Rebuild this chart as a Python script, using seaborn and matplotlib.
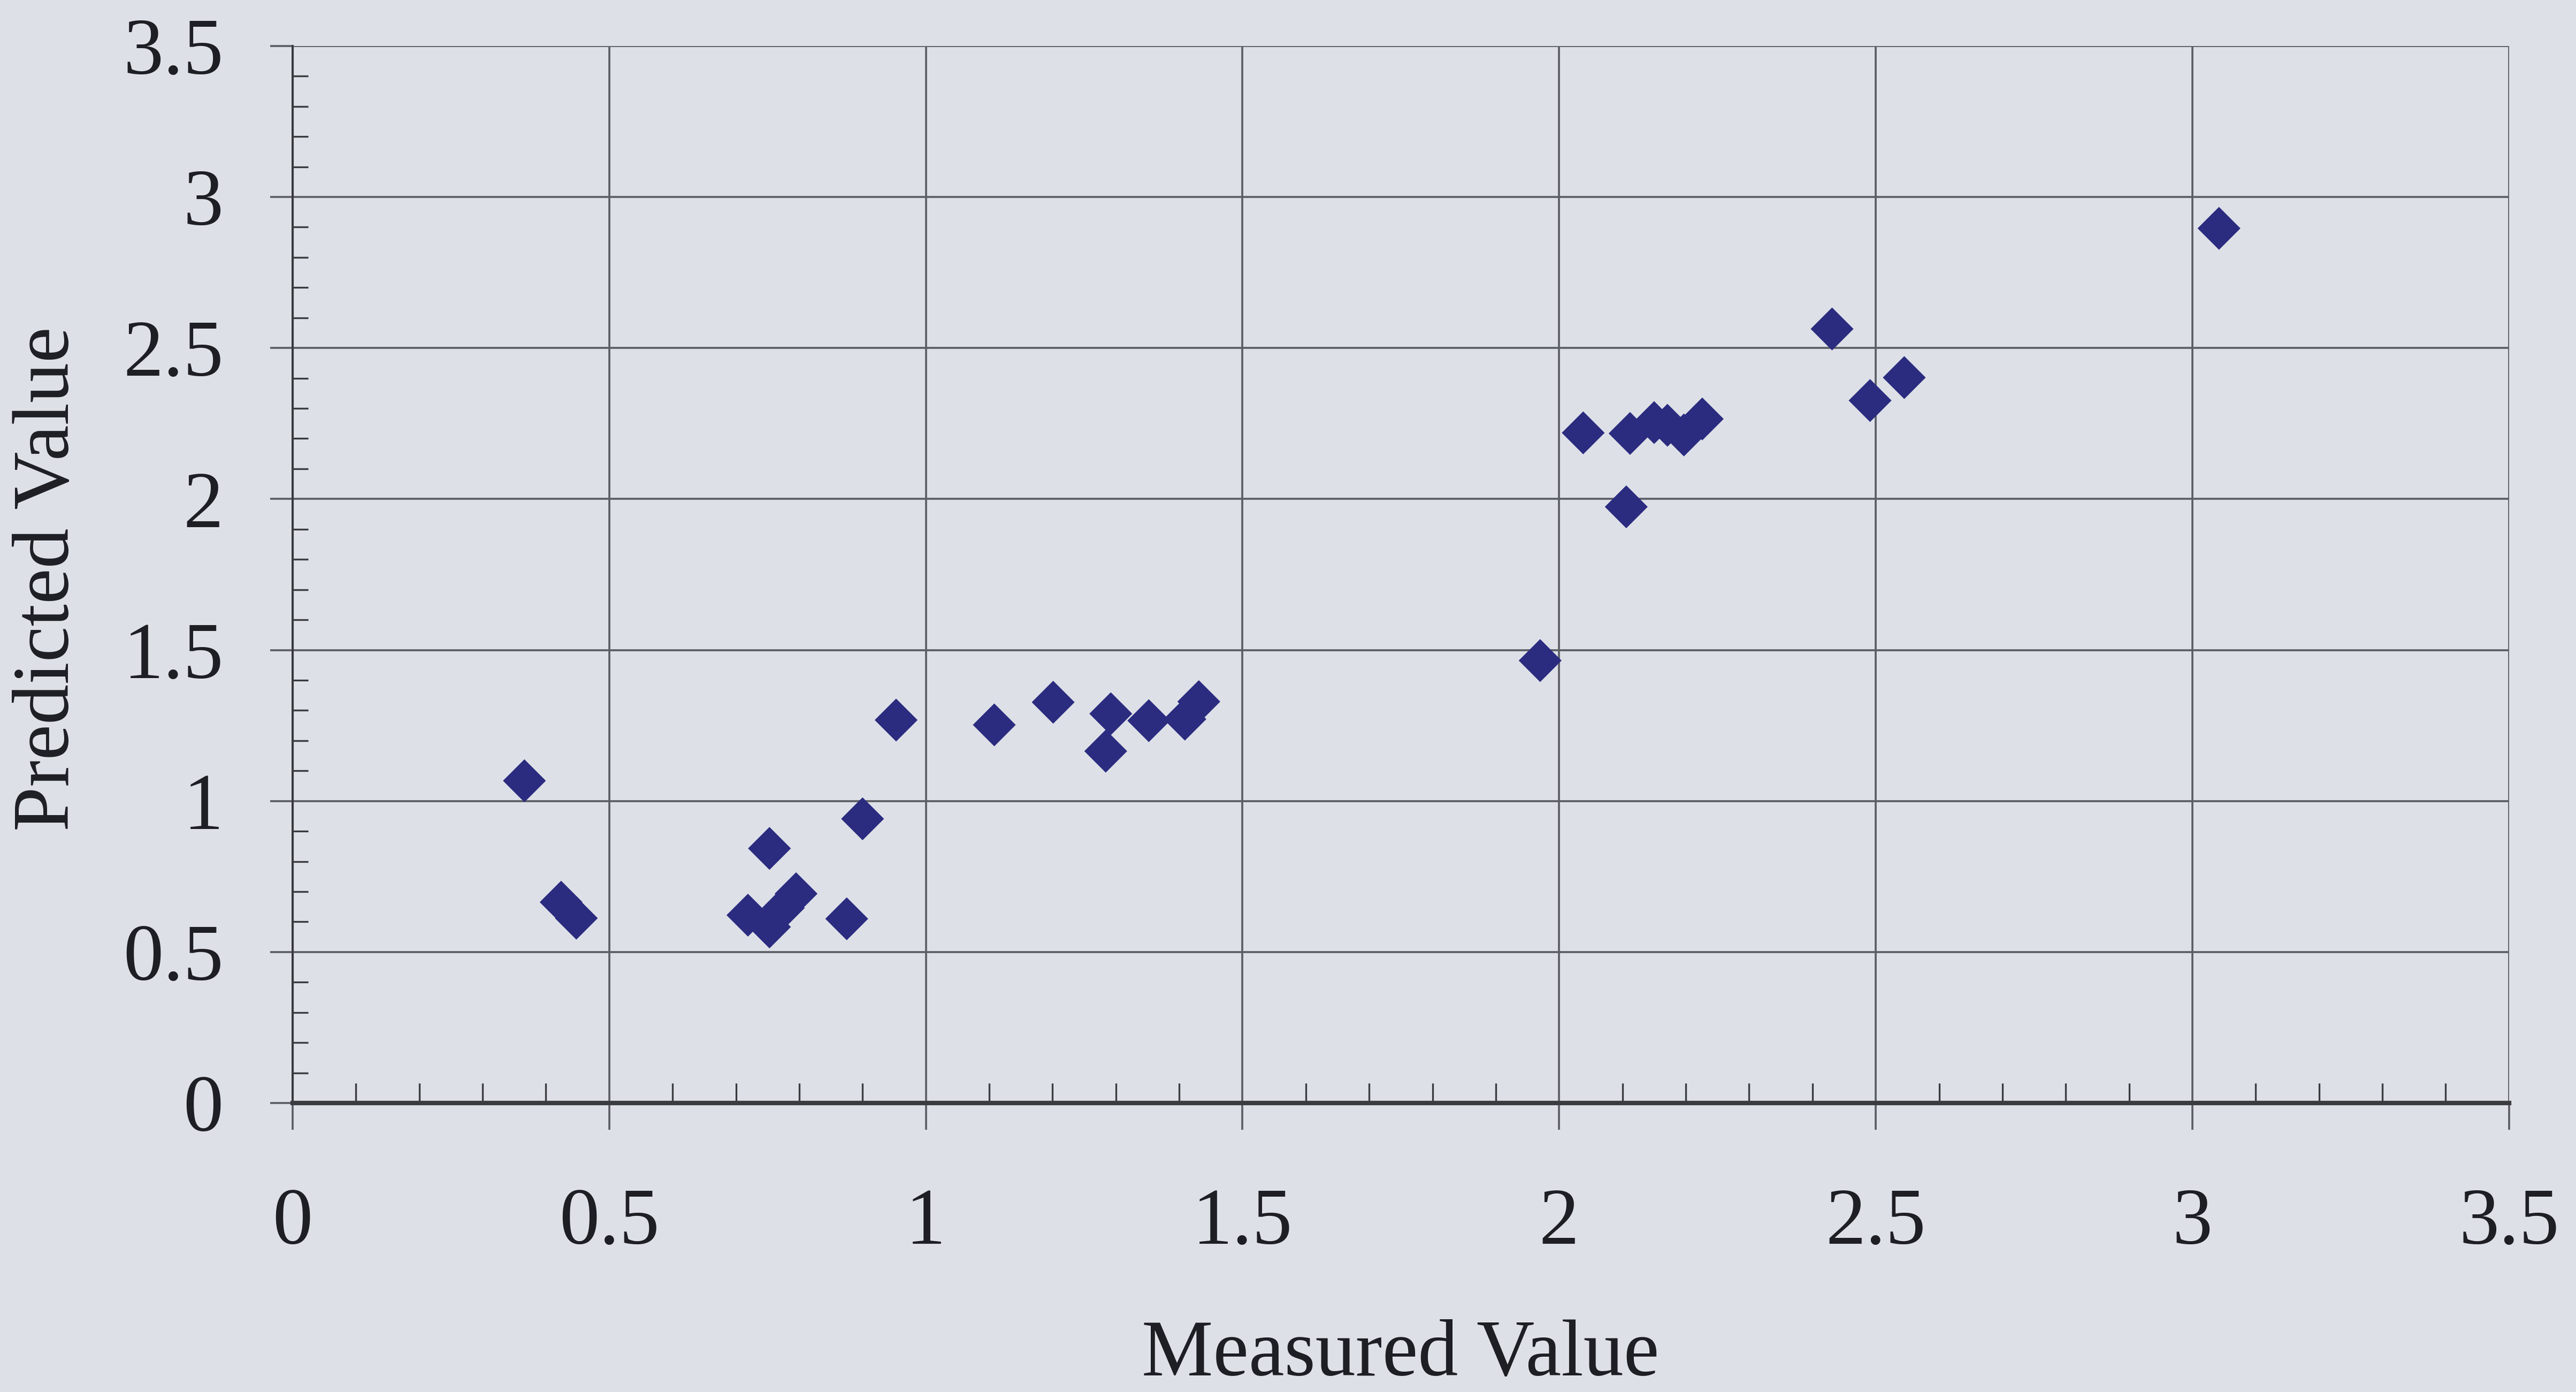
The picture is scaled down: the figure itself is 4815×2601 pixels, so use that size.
import matplotlib
matplotlib.use("Agg")
import matplotlib.pyplot as plt
from matplotlib.ticker import MultipleLocator, FuncFormatter
import seaborn as sns
import pandas as pd

# Measured vs. predicted values
measured = [0.366, 0.424, 0.448, 0.719, 0.753, 0.753, 0.775, 0.795, 0.875, 0.900,
            0.953, 1.108, 1.201, 1.284, 1.292, 1.352, 1.409, 1.431, 1.970, 2.038,
            2.106, 2.112, 2.150, 2.171, 2.197, 2.226, 2.431, 2.491, 2.545, 3.042]
predicted = [1.067, 0.665, 0.612, 0.622, 0.843, 0.583, 0.646, 0.693, 0.610, 0.941,
             1.268, 1.252, 1.327, 1.165, 1.289, 1.266, 1.271, 1.329, 1.465, 2.219,
             1.974, 2.217, 2.253, 2.244, 2.212, 2.265, 2.563, 2.326, 2.402, 2.896]

x_label = "Measured Value"
y_label = "Predicted Value"

bg = "#dde1e7"
ink = "#1e1f24"
grid_col = "#5c5f65"
marker_col = "#2b2b80"

sns.set_style("white")
plt.rcParams["font.family"] = ["Liberation Serif", "DejaVu Serif"]

df = pd.DataFrame({"measured": measured, "predicted": predicted})

fig = plt.figure(figsize=(4815 / 300, 2601 / 300), dpi=300, facecolor=bg)
ax = fig.add_axes([0.1136, 0.2076, 0.8604, 0.7594])
ax.set_facecolor(bg)

sns.scatterplot(data=df, x="measured", y="predicted", marker="D", s=185,
                color=marker_col, edgecolor="none", linewidth=0, ax=ax, zorder=3)

ax.set_xlim(0, 3.5)
ax.set_ylim(0, 3.5)
ax.xaxis.set_major_locator(MultipleLocator(0.5))
ax.yaxis.set_major_locator(MultipleLocator(0.5))
ax.xaxis.set_minor_locator(MultipleLocator(0.1))
ax.yaxis.set_minor_locator(MultipleLocator(0.1))

fmt = FuncFormatter(lambda v, p: f"{v:g}")
ax.xaxis.set_major_formatter(fmt)
ax.yaxis.set_major_formatter(fmt)

ax.grid(True, which="major", color=grid_col, linewidth=0.9, zorder=1)
ax.set_axisbelow(True)

for side in ("top", "right"):
    ax.spines[side].set_visible(False)
ax.spines["left"].set_color("#3a3c40")
ax.spines["left"].set_linewidth(1.0)
ax.spines["bottom"].set_color("#3a3c40")
ax.spines["bottom"].set_linewidth(2.0)

ax.tick_params(which="both", bottom=True, left=True, top=False, right=False)
ax.tick_params(axis="x", which="major", direction="out", length=12, width=0.9,
               color=grid_col, pad=26, labelsize=36, labelcolor=ink)
ax.tick_params(axis="y", which="major", direction="out", length=10, width=0.9,
               color=grid_col, pad=21, labelsize=36, labelcolor=ink)
ax.tick_params(axis="x", which="minor", direction="in", length=9, width=0.8,
               color="#3a3c40")
ax.tick_params(axis="y", which="minor", direction="in", length=7, width=0.8,
               color="#3a3c40")

ax.set_xlabel("")
ax.set_ylabel("")
fig.text(0.5437, 0.026, x_label, ha="center", va="center", fontsize=36, color=ink)
fig.text(0.0191, 0.584, y_label, ha="center", va="center", rotation=90,
         fontsize=36, color=ink)

fig.savefig("out.png", dpi=300, facecolor=bg)
